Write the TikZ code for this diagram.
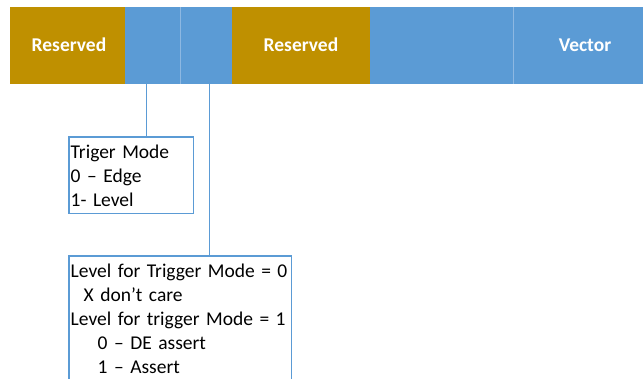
\documentclass[tikz,border=0pt]{standalone}
\usepackage{fontspec}
\setmainfont{Carlito}
\definecolor{gold}{HTML}{BF9000}
\definecolor{fieldblue}{HTML}{5B9BD5}
\definecolor{divider}{HTML}{8DB8E2}
\begin{document}
\begin{tikzpicture}[x=1pt,y=-1pt,
  fieldtext/.style={text=white,font=\bfseries\fontsize{19.5}{22}\selectfont},
  note/.style={draw=none,anchor=north west,align=left,text height=14.5pt,
    inner xsep=1.5pt,inner ysep=7pt,font=\fontsize{19.5}{24}\selectfont},
  frame/.style={draw=fieldblue,line width=1.2pt},
  link/.style={draw=fieldblue,line width=1pt}]
\clip (0,0) rectangle (643,379);
\fill[white] (0,0) rectangle (643,379);
% register fields
\fill[gold] (10,7) rectangle (125,84);
\fill[fieldblue] (125,7) rectangle (232,84);
\fill[gold] (232,7) rectangle (370,84);
\fill[fieldblue] (370,7) rectangle (643,84);
\draw[divider,line width=0.6pt] (180,7) -- (180,84);
\draw[divider,line width=0.6pt] (513,7) -- (513,84);
\node[fieldtext] (res1) at (69,45) {Reserved};
\node[fieldtext] (res2) at (301,45) {Reserved};
\node[fieldtext] (vec) at (585,45) {Vector};
\coordinate (tm) at (146,84);
\coordinate (lv) at (209,84);
% descriptions
\node[note,text width=121pt,text depth=48pt] (trig) at (69,137)
  {Triger Mode\\0 – Edge\\1- Level};
\node[note,text width=219pt,text depth=130pt] (lvl) at (69,256)
  {Level for Trigger Mode = 0\\
   \hspace*{13pt}X don’t care\\
   Level for trigger Mode = 1\\
   \hspace*{27pt}0 – DE assert\\
   \hspace*{27pt}1 – Assert};
\draw[frame] (trig.north west) rectangle (trig.south east);
\draw[frame] (lvl.north west) rectangle (lvl.south east);
\draw[link] (tm) -- (tm |- trig.north);
\draw[link] (lv) -- (lv |- lvl.north);
\end{tikzpicture}
\end{document}
